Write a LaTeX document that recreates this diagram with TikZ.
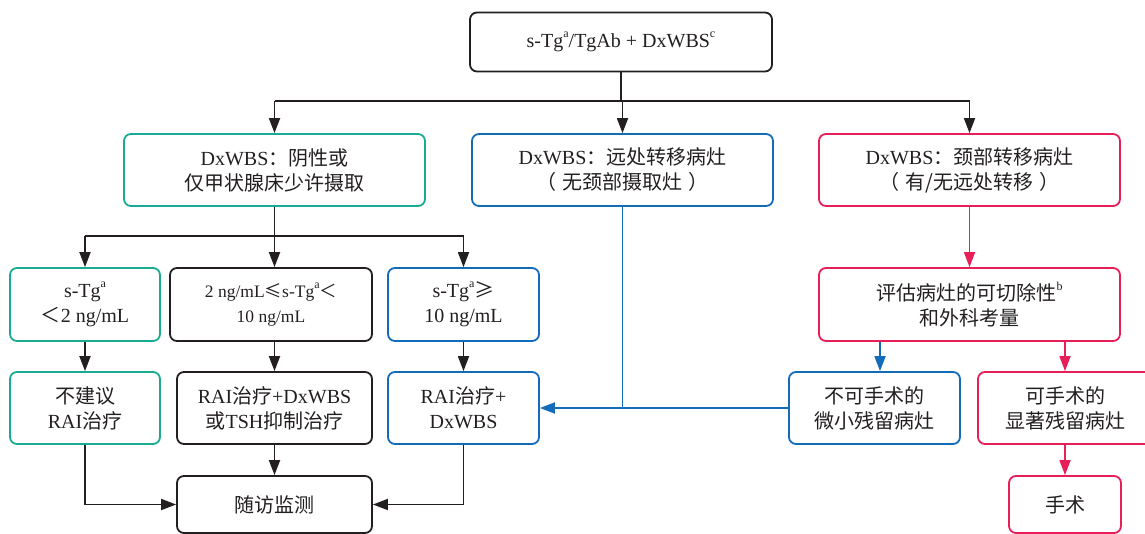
\documentclass[tikz,border=0pt]{standalone}
\usepackage{fontspec}
\setmainfont{Liberation Serif}
\newfontfamily\cjk{Noto Sans CJK SC}
\usepackage{tikz}
\usetikzlibrary{arrows.meta,calc}
\definecolor{tgreen}{RGB}{24,170,146}
\definecolor{tblue}{RGB}{18,108,186}
\definecolor{tred}{RGB}{232,30,88}
\definecolor{ink}{RGB}{35,31,32}
\newcommand{\zw}[1]{{\cjk #1}}
\newcommand{\sa}[1]{\raisebox{0.5em}{\fontsize{12}{12}\selectfont #1}}
\newcommand{\lp}{\zw{（}\hspace{0.3em}}
\newcommand{\rp}{\hspace{0.3em}\zw{）}}
\tikzset{
  box/.style={draw=ink, rounded corners=7pt, line width=1.8pt, align=center, inner sep=0pt,
    text=ink, font=\fontsize{20}{25}\selectfont},
  gbox/.style={box, draw=tgreen},
  bbox/.style={box, draw=tblue},
  rbox/.style={box, draw=tred},
  arr/.style={-{Triangle[length=15pt,width=11pt]}, line width=1.8pt, draw=ink},
  ln/.style={line width=1.8pt, draw=ink}
}

\begin{document}
\begin{tikzpicture}[x=1pt, y=-1pt]
\useasboundingbox (0,0) rectangle (1145,534);
% top
\node[box, minimum width=302, minimum height=59] (top) at (621,42) {s-Tg\sa{a}/TgAb + DxWBS\sa{c}};
% DxWBS results
\node[gbox, minimum width=301, minimum height=72] (neg) at (274.5,170) {DxWBS\zw{：阴性或}\\\zw{仅甲状腺床少许摄取}};
\node[bbox, minimum width=301, minimum height=72] (dist) at (622.5,170) {DxWBS\zw{：远处转移病灶}\\\lp\zw{无颈部摄取灶}\rp};
\node[rbox, minimum width=301, minimum height=72] (neck) at (969.5,170) {DxWBS\zw{：颈部转移病灶}\\\lp\zw{有/无远处转移}\rp};
% s-Tg levels
\node[gbox, minimum width=150, minimum height=73] (low) at (85,304.5) {s-Tg\sa{a}\\\zw{＜}2 ng/mL};
\node[box, minimum width=202, minimum height=73, font=\fontsize{17.5}{25}\selectfont] (mid) at (271,304.5) {2 ng/mL\zw{≤}s-Tg\sa{a}\zw{＜}\\10 ng/mL};
\node[bbox, minimum width=151, minimum height=73] (high) at (463.5,304.5) {s-Tg\sa{a}\zw{≥}\\10 ng/mL};
\node[rbox, minimum width=301, minimum height=73] (eval) at (969.5,304.5) {\zw{评估病灶的可切除性}\sa{b}\\\zw{和外科考量}};
% treatments
\node[gbox, minimum width=150, minimum height=72] (norai) at (85,408) {\zw{不建议}\\RAI\zw{治疗}};
\node[box, minimum width=195, minimum height=72] (raitsh) at (274.5,408) {RAI\zw{治疗}+DxWBS\\\zw{或}TSH\zw{抑制治疗}};
\node[bbox, minimum width=151, minimum height=72] (rai) at (463.5,408) {RAI\zw{治疗}+\\DxWBS};
\node[bbox, minimum width=171, minimum height=72] (inop) at (874.5,408) {\zw{不可手术的}\\\zw{微小残留病灶}};
\node[rbox, minimum width=174, minimum height=72] (oper) at (1065,408) {\zw{可手术的}\\\zw{显著残留病灶}};
% bottom
\node[box, minimum width=195, minimum height=57] (fu) at (274.5,504.5) {\zw{随访监测}};
\node[rbox, minimum width=112, minimum height=57] (surg) at (1065,504.5) {\zw{手术}};

% connectors
\coordinate (j1) at (621,101);
\coordinate (j2) at (274.5,236);
\draw[ln] (top.south) -- (j1);
\draw[ln] (j1 -| neg.north) -- (j1 -| neck.north);
\draw[arr] (j1 -| neg.north) -- (neg.north);
\draw[arr] (j1 -| dist.north) -- (dist.north);
\draw[arr] (j1 -| neck.north) -- (neck.north);
\draw[ln] (neg.south) -- (j2);
\draw[ln] (j2 -| low.north) -- (j2 -| high.north);
\draw[arr] (j2 -| low.north) -- (low.north);
\draw[arr] (j2) -- (j2 |- mid.north);
\draw[arr] (j2 -| high.north) -- (high.north);
\draw[arr] (low) -- (norai);
\draw[arr] (mid.south -| raitsh.north) -- (raitsh.north);
\draw[arr] (high) -- (rai);
\draw[arr] (norai.south) |- (fu.west);
\draw[arr] (raitsh) -- (fu);
\draw[arr] (rai.south) |- (fu.east);
\draw[arr, draw=tred, fill=tred] (neck) -- (eval);
\draw[arr, draw=tblue, fill=tblue] ([xshift=5.5pt]inop.north |- eval.south) -- ([xshift=5.5pt]inop.north);
\draw[arr, draw=tred, fill=tred] (eval.south -| oper.north) -- (oper.north);
\draw[arr, draw=tred, fill=tred] (oper) -- (surg);
\draw[ln, draw=tblue] (dist.south) -- (dist.south |- inop.west);
\draw[arr, draw=tblue, fill=tblue] (inop.west) -- (rai.east);
\end{tikzpicture}
\end{document}
